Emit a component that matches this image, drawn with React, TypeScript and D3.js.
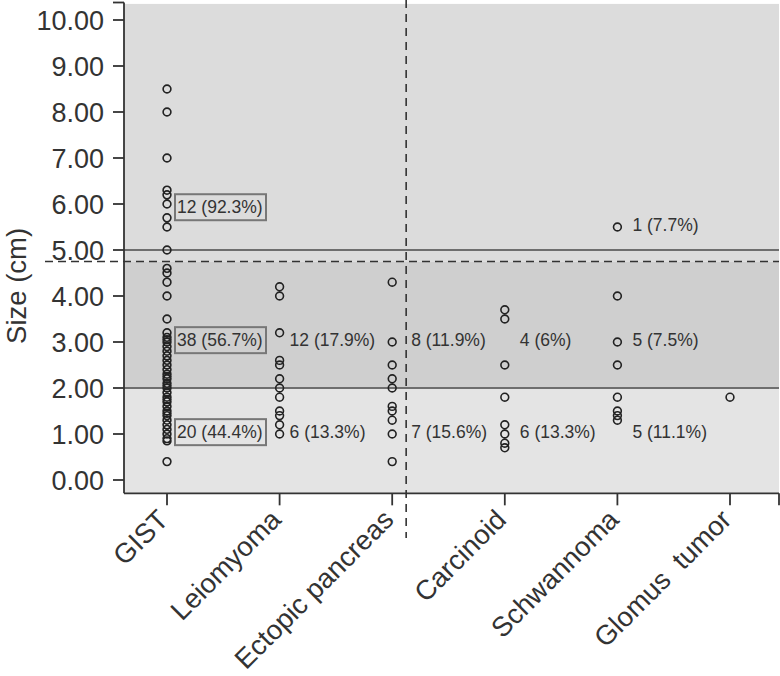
import React from "react";
import * as d3 from "d3";

const categories = ["GIST", "Leiomyoma", "Ectopic pancreas", "Carcinoid", "Schwannoma", "Glomus  tumor"];

const gistSizes = [
  8.5, 8.0, 7.0, 7.0, 6.3, 6.2, 6.0, 6.0, 5.7, 5.5, 5.0, 5.0,
  4.6, 4.5, 4.3, 4.0, 4.0, 3.5, 3.5, 3.2, 3.2, 3.1, 3.1, 3.05, 3.0, 3.0, 3.0, 2.9, 2.9, 2.8, 2.8, 2.7, 2.7,
  2.6, 2.6, 2.5, 2.5, 2.5, 2.4, 2.3, 2.25, 2.2, 2.2, 2.1, 2.1, 2.05, 2.0, 2.0, 2.0, 2.0,
  1.9, 1.8, 1.8, 1.75, 1.7, 1.6, 1.5, 1.5, 1.45, 1.4, 1.3, 1.2, 1.2, 1.1, 1.0, 1.0, 1.0, 0.9, 0.85, 0.4,
];
const leiomyomaSizes = [4.2, 4.0, 4.0, 3.2, 3.2, 2.6, 2.5, 2.5, 2.2, 2.2, 2.0, 2.0, 1.8, 1.5, 1.4, 1.2, 1.0, 1.0];
const ectopicSizes = [4.3, 3.0, 3.0, 2.5, 2.5, 2.2, 2.0, 2.0, 1.6, 1.5, 1.5, 1.3, 1.0, 1.0, 0.4];
const carcinoidSizes = [3.7, 3.5, 2.5, 2.5, 1.8, 1.2, 1.0, 1.0, 0.8, 0.7];
const schwannomaSizes = [5.5, 4.0, 3.0, 3.0, 2.5, 2.5, 1.8, 1.5, 1.5, 1.4, 1.3];
const glomusSizes = [1.8];

const seriesSizes = [gistSizes, leiomyomaSizes, ectopicSizes, carcinoidSizes, schwannomaSizes, glomusSizes];

const yTicks = [0, 1, 2, 3, 4, 5, 6, 7, 8, 9, 10];

// band cut-offs (cm)
const solidCuts = [5, 2];
const dashedCut = 4.75;

// annotations: category, label, level
const annCategory = ["GIST", "GIST", "GIST", "Leiomyoma", "Leiomyoma", "Ectopic pancreas", "Ectopic pancreas", "Carcinoid", "Carcinoid", "Schwannoma", "Schwannoma", "Schwannoma"];
const annText = ["12 (92.3%)", "38 (56.7%)", "20 (44.4%)", "12 (17.9%)", "6 (13.3%)", "8 (11.9%)", "7 (15.6%)", "4 (6%)", "6 (13.3%)", "1 (7.7%)", "5 (7.5%)", "5 (11.1%)"];
const annLevel = [5.93, 3.04, 1.04, 3.04, 1.04, 3.04, 1.04, 3.04, 1.04, 5.54, 3.04, 1.04];
const annBoxed = [true, true, true, false, false, false, false, false, false, false, false, false];

export default function App() {
  const W = 780, H = 676;
  const left = 124, right = 779;
  const x = d3.scalePoint<string>().domain(categories).range([167, 730]);
  const y = d3.scaleLinear().domain([0, 10]).range([480, 20]);
  const top = y(10.35);
  const bottom = y(-0.29);
  const step = x.step();
  const vDashX = (x("Ectopic pancreas") as number) + step * 0.124;
  const font = "'Liberation Sans', Arial, Helvetica, sans-serif";
  const annDx = (c: string) => (c === "GIST" ? 10 : c === "Leiomyoma" ? 10 : c === "Ectopic pancreas" ? 19 : 15);
  const r = 3.9;

  const circlePath = (arr: number[], cat: string) => {
    const p = d3.path();
    const cx = x(cat) as number;
    arr.forEach((v) => {
      const cy = y(v);
      p.moveTo(cx + r, cy);
      p.arc(cx, cy, r, 0, Math.PI * 2);
      p.closePath();
    });
    return p.toString();
  };

  return (
    <svg width={W} height={H} style={{ position: "absolute", left: 0, top: 0 }} fontFamily={font}>
      {/* background bands */}
      <rect x={left} y={top} width={right - left} height={y(dashedCut) - top} fill="#dcdcdc" />
      <rect x={left} y={y(dashedCut)} width={right - left} height={y(2) - y(dashedCut)} fill="#cfcfcf" />
      <rect x={left} y={y(2)} width={right - left} height={bottom - y(2)} fill="#e4e4e4" />

      {/* solid cut lines */}
      {solidCuts.map((v) => (
        <line key={v} x1={left} x2={right} y1={y(v)} y2={y(v)} stroke="#6e6e6e" strokeWidth={2} />
      ))}

      {/* points */}
      {seriesSizes.map((arr, i) => (
        <path key={i} d={circlePath(arr, categories[i])} fill="none" stroke="#222" strokeWidth={1.6} />
      ))}

      {/* annotations */}
      {annText.map((t, i) => {
        const cx = (x(annCategory[i]) as number) + annDx(annCategory[i]);
        const cy = y(annLevel[i]);
        return (
          <g key={i}>
            {annBoxed[i] && (
              <rect x={cx - 2} y={cy - 13} width={91} height={26} fill="none" stroke="#777" strokeWidth={2} />
            )}
            <text x={cx} y={cy} dy="0.35em" fontSize={17.5} fill="#333">{t}</text>
          </g>
        );
      })}

      {/* dashed cut lines */}
      <line x1={45} x2={right} y1={y(dashedCut)} y2={y(dashedCut)} stroke="#333" strokeWidth={1.6} strokeDasharray="8,5" />
      <line x1={vDashX} x2={vDashX} y1={0} y2={538} stroke="#333" strokeWidth={1.6} strokeDasharray="8,6" />

      {/* axes */}
      <line x1={left} x2={left} y1={2.5} y2={bottom} stroke="#333" strokeWidth={1.8} />
      <line x1={left - 11} x2={left} y1={2.5} y2={2.5} stroke="#333" strokeWidth={1.8} />
      <line x1={left} x2={right} y1={bottom} y2={bottom} stroke="#333" strokeWidth={1.8} />
      <line x1={right} x2={right} y1={bottom} y2={bottom + 12} stroke="#333" strokeWidth={1.8} />
      {yTicks.map((t) => (
        <g key={t}>
          <line x1={left - 11} x2={left} y1={y(t)} y2={y(t)} stroke="#333" strokeWidth={1.8} />
          <text x={left - 20} y={y(t)} dy="0.36em" textAnchor="end" fontSize={27} fill="#333">{t.toFixed(2)}</text>
        </g>
      ))}
      {categories.map((c) => {
        const cx = x(c) as number;
        return (
          <g key={c}>
            <line x1={cx} x2={cx} y1={bottom} y2={bottom + 12} stroke="#333" strokeWidth={1.8} />
            <text
              transform={`translate(${cx + 3},${bottom + 28}) rotate(-45)`}
              textAnchor="end"
              fontSize={27.5}
              fill="#333"
              style={{ whiteSpace: "pre" }}
            >
              {c}
            </text>
          </g>
        );
      })}
      <text transform={`translate(26,${y(4.22)}) rotate(-90)`} textAnchor="middle" fontSize={27.5} fill="#333">Size (cm)</text>
    </svg>
  );
}
